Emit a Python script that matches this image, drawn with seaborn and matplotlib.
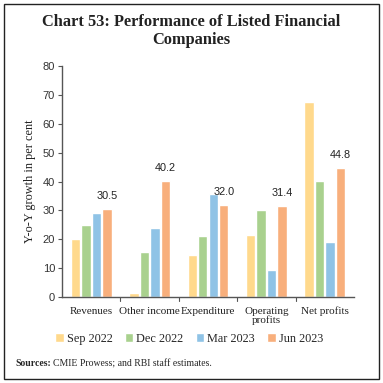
import matplotlib
matplotlib.use("Agg")
import matplotlib.pyplot as plt
import seaborn as sns
import pandas as pd
from matplotlib.patches import Rectangle

categories = ["Revenues", "Other income", "Expenditure", "Operating\nprofits", "Net profits"]
series_names = ["Sep 2022", "Dec 2022", "Mar 2023", "Jun 2023"]
sep_2022 = [20.0, 1.5, 14.7, 21.6, 67.4]
dec_2022 = [25.0, 15.7, 21.1, 30.1, 40.1]
mar_2023 = [29.0, 24.0, 35.6, 9.3, 18.9]
jun_2023 = [30.5, 40.2, 32.0, 31.4, 44.8]
yticks = [0, 10, 20, 30, 40, 50, 60, 70, 80]

colors = ["#FFD98C", "#A9D18E", "#8FC3E6", "#F8AF7C"]

rows = []
for name, vals in zip(series_names, [sep_2022, dec_2022, mar_2023, jun_2023]):
    for c, v in zip(categories, vals):
        rows.append({"category": c, "period": name, "value": v})
df = pd.DataFrame(rows)

sns.set_theme(style="white")
plt.rcParams["font.family"] = ["Liberation Serif", "DejaVu Serif"]

fig = plt.figure(figsize=(3.83, 3.83), dpi=100)
ax = fig.add_axes([62/383, 86/383, 292/383, 231/383])

sns.barplot(data=df, x="category", y="value", hue="period", order=categories,
            hue_order=series_names, palette=colors, width=0.72, gap=0.1,
            saturation=1, ax=ax, legend=True)

ax.set_ylim(0, 80)
ax.set_yticks(yticks)
ax.set_yticklabels([str(t) for t in yticks], fontsize=8, family="Liberation Sans", color="#333333")
ax.set_xlim(-0.5, len(categories) - 0.5)
ax.set_xticks(range(len(categories)))
ax.set_xticklabels(categories, fontsize=8, color="#222222", linespacing=1.0)
ax.tick_params(axis="x", length=0, pad=7)
ax.tick_params(axis="y", length=3, width=0.8, color="#555555", left=True, direction="out", pad=2)
for b in [0.5, 1.5, 2.5, 3.5]:
    ax.plot([b, b], [0, -1.3], color="#555555", lw=0.8, clip_on=False)
ax.set_xlabel("")
ax.set_ylabel("Y-o-Y growth in per cent", fontsize=8.8, color="#222222", labelpad=5)
for s in ["top", "right"]:
    ax.spines[s].set_visible(False)
for s in ["left", "bottom"]:
    ax.spines[s].set_color("#555555")
    ax.spines[s].set_linewidth(1.0)

jun_container = ax.containers[3]
for rect, v in zip(jun_container, jun_2023):
    ax.text(rect.get_x() + rect.get_width()/2, v + 2.8, f"{v:.1f}", ha="center", va="bottom",
            fontsize=7.8, family="Liberation Sans", color="#222222")

leg = ax.legend(loc="center", ncol=4, frameon=False,
                fontsize=8.8, handlelength=0.7, handleheight=0.7, handletextpad=0.25,
                columnspacing=1.0, borderaxespad=0)
leg.set_bbox_to_anchor((0.5 - 19/292, (297 - 339) / 231), transform=ax.transAxes)

fig.text(0.5, 1 - 22/383, "Chart 53: Performance of Listed Financial", ha="center", va="center",
         fontsize=11.8, fontweight="bold", color="#222222")
fig.text(0.5, 1 - 40/383, "Companies", ha="center", va="center",
         fontsize=11.8, fontweight="bold", color="#222222")
t1 = fig.text(15/383, 1 - 364/383, "Sources:", ha="left", va="center", fontsize=7, fontweight="bold")
fig.canvas.draw()
bb = t1.get_window_extent(renderer=fig.canvas.get_renderer())
fig.text((bb.x1 + 2) / fig.bbox.width, 1 - 364/383, "CMIE Prowess; and RBI staff estimates.",
         ha="left", va="center", fontsize=7)

fig.patches.append(Rectangle((4/383, 4/383), 375/383, 375/383, transform=fig.transFigure,
                             fill=False, edgecolor="#222222", lw=1.0))

fig.savefig("out.png", dpi=100)
